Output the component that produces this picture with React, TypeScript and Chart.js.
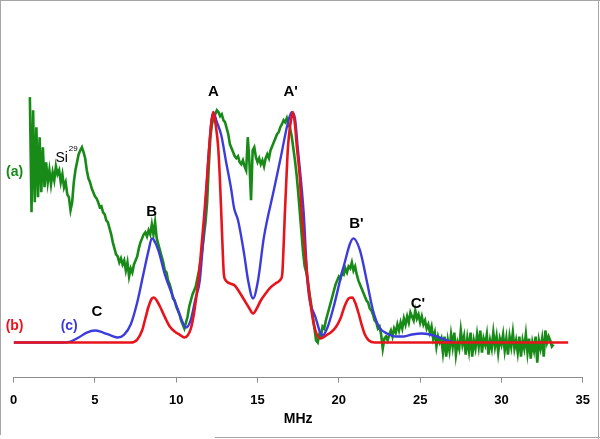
import { useEffect, useRef } from "react";
import { Chart, registerables } from "chart.js";

Chart.register(...registerables);

// x axis (MHz)
const xTickMin = 0;
const xTickMax = 35;
const xTickStep = 5;
const xTitle = "MHz";

// (a) measured spectrum, sampled every 0.1 MHz starting at 1.0 MHz (arbitrary intensity units)
const greenStartMHz = 1.0;
const greenStepMHz = 0.1;
const greenIntensity = [
  245, 130, 232, 140, 215, 145, 205, 150, 195, 155,
  180, 160, 172, 158, 170, 162, 176, 168, 172, 160,
  168, 155, 160, 148, 145, 132, 140, 160, 172, 180,
  188, 192, 195, 190, 184, 172, 164, 160, 154, 150,
  146, 144, 140, 135, 136, 130, 128, 122, 120, 114,
  108, 100, 94, 88, 86, 80, 84, 78, 82, 72,
  80, 66, 74, 70, 78, 82, 86, 94, 100, 104,
  108, 110, 106, 112, 108, 118, 108, 120, 104, 98,
  92, 86, 80, 72, 70, 62, 58, 52, 44, 42,
  36, 32, 28, 22, 18, 14, 20, 26, 36, 42,
  48, 52, 56, 64, 72, 82, 92, 106, 120, 140,
  175, 205, 218, 225, 228, 232, 230, 226, 228, 222,
  220, 214, 208, 198, 194, 190, 186, 184, 186, 180,
  178, 182, 176, 172, 205, 180, 142, 192, 195, 185,
  180, 184, 178, 182, 176, 184, 188, 184, 192, 196,
  200, 204, 208, 210, 215, 218, 222, 220, 224, 218,
  214, 206, 194, 182, 168, 150, 130, 110, 90, 76,
  70, 60, 48, 38, 26, 14, 2, 0, 8, 6,
  16, 14, 22, 28, 34, 40, 46, 52, 58, 62,
  66, 64, 70, 68, 74, 70, 76, 74, 80, 72,
  76, 68, 62, 58, 54, 50, 46, 42, 40, 34,
  32, 28, 22, 20, 14, 16, 8, -6, 4, 6,
  2, 8, 12, 6, 14, 10, 18, 12, 20, 14,
  24, 18, 26, 20, 30, 26, 22, 32, 24, 28,
  20, 26, 18, 22, 14, 18, 10, 16, 4, 10,
  -4, 6, 0, 4, -10, 6, -14, 2, -8, 8,
  -4, 10, -12, 0, -6, 12, -2, 6, -12, 4,
  -8, 10, -14, 2, -6, 8, -4, 12, -10, 4,
  -2, 8, -12, 2, -6, 10, -4, 6, -10, 4,
  -2, 8, -8, 4, -12, 6, -4, 10, -6, 2,
  -10, 6, -14, 2, -6, 8, -10, 4, -16, 0,
  -8, 6, -20, 2, -6, 4, -14, 12, 0, 6,
  2, -4, -2,
];

// (b) simulation, red
const redMHz = [
  0, 7.2, 7.6, 7.9, 8.1, 8.3, 8.5, 8.62, 8.8, 9.0, 9.2, 9.4, 9.6, 9.9, 10.2, 10.5,
  10.7, 10.9, 11.1, 11.36, 11.55, 11.73, 11.9, 12.03, 12.15, 12.28, 12.42, 12.58, 12.68,
  12.77, 12.85, 12.93, 13.05, 13.3, 13.6, 13.9, 14.2, 14.5, 14.72, 14.95, 15.2, 15.5, 15.8,
  16.1, 16.3, 16.42, 16.52, 16.6, 16.68, 16.78, 16.87, 17.02, 17.17, 17.3, 17.42, 17.6, 17.72,
  17.9, 18.09, 18.45, 18.88, 19.2, 19.5, 19.8, 20.1, 20.35, 20.6, 20.83, 21.0, 21.2,
  21.4, 21.6, 21.85, 22.2, 34.1,
];
const redIntensity = [
  0, 0, 3, 12, 24, 36, 44, 45, 42, 36, 29, 22, 16, 11, 8, 5,
  7, 14, 30, 62, 95, 129, 165, 195, 218, 230, 218, 195, 165,
  129, 95, 68, 62, 59, 57, 50, 42, 34, 29, 34, 42, 49, 55,
  59, 61, 63, 68, 95, 129, 165, 195, 218, 230, 218, 195, 165, 129,
  95, 62, 19, 4, 7, 10, 15, 24, 36, 44, 45, 40, 30,
  18, 8, 2, 0, 0,
];

// (c) simulation, blue
const blueMHz = [
  0, 3.0, 3.5, 4.0, 4.5, 5.0, 5.5, 6.0, 6.4, 6.8, 7.2, 7.6, 8.0, 8.3, 8.5, 8.9, 9.3,
  9.7, 10.1, 10.4, 10.6, 10.9, 11.2, 11.45, 11.75, 12.0, 12.28, 12.5, 12.77, 13.07,
  13.37, 13.56, 13.8, 14.17, 14.42, 14.72, 15.03, 15.39, 16.0, 16.43, 16.86, 17.1,
  17.3, 17.47, 17.84, 18.08, 18.57, 19.0, 19.3, 19.67, 20.28, 20.9, 21.3, 21.75, 22.1,
  22.5, 22.97, 23.5, 24.0, 24.5, 25.1, 25.6, 26.2, 26.7, 27.1,
];
const blueIntensity = [
  0, 0, 1, 5, 10, 12, 10, 7, 5, 8, 18, 40, 70, 92, 104, 92, 68,
  50, 33, 20, 15, 23, 45, 62, 125, 190, 230, 220, 207, 180,
  154, 134, 122, 89, 62, 44, 62, 105, 152, 185, 219, 230,
  224, 195, 129, 59, 25, 7, 15, 35, 75, 104, 92, 59, 32,
  15, 9, 6, 6, 8, 9, 8, 5, 2, 0,
];

// peak labels
const peakText = ["A", "A'", "B", "B'", "C", "C'"];
const peakMHz = [12.28, 17.04, 8.49, 21.08, 5.13, 24.86];
const peakIntensity = [250, 250, 130, 118, 31, 39];

// trace tags
const tagText = ["(a)", "(b)", "(c)"];
const tagMHz = [0.06, 0.06, 3.42];
const tagIntensity = [170, 16, 16];

// isotope note
const isoText = "Si";
const isoSup = "29";
const isoMHz = 2.57;
const isoIntensity = 184;

const GREEN = "#178a17";
const RED = "#e8141c";
const BLUE = "#3c3cdc";
const tagColors = [GREEN, RED, BLUE];
const FONT = "'Liberation Sans', Arial, sans-serif";

export default function App() {
  const ref = useRef<HTMLCanvasElement>(null);

  useEffect(() => {
    document.body.style.margin = "0";
    const canvas = ref.current;
    if (!canvas) return;

    const greenData = greenIntensity.map((v, i) => ({
      x: Math.round((greenStartMHz + i * greenStepMHz) * 100) / 100,
      y: v,
    }));
    const redData = redMHz.map((x, i) => ({ x, y: redIntensity[i] }));
    const blueData = blueMHz.map((x, i) => ({ x, y: blueIntensity[i] }));

    const annot = {
      id: "annot",
      afterDatasetsDraw(chart: any) {
        const { ctx, scales } = chart;
        const xs = scales.x;
        const ys = scales.y;
        ctx.save();
        ctx.textBaseline = "middle";
        ctx.textAlign = "center";
        ctx.fillStyle = "#000";
        ctx.font = `bold 15px ${FONT}`;
        peakText.forEach((t, i) => {
          ctx.fillText(t, xs.getPixelForValue(peakMHz[i]), ys.getPixelForValue(peakIntensity[i]));
        });
        ctx.font = `bold 14px ${FONT}`;
        tagText.forEach((t, i) => {
          ctx.fillStyle = tagColors[i];
          ctx.fillText(t, xs.getPixelForValue(tagMHz[i]), ys.getPixelForValue(tagIntensity[i]));
        });
        ctx.fillStyle = "#000";
        ctx.textAlign = "left";
        ctx.font = `14px ${FONT}`;
        const sx = xs.getPixelForValue(isoMHz);
        const sy = ys.getPixelForValue(isoIntensity);
        ctx.fillText(isoText, sx, sy);
        const w = ctx.measureText(isoText).width;
        ctx.font = `8px ${FONT}`;
        ctx.fillText(isoSup, sx + w + 1, sy - 9);
        ctx.restore();
      },
      afterDraw(chart: any) {
        const { ctx } = chart;
        ctx.save();
        ctx.strokeStyle = "#a6a6a6";
        ctx.lineWidth = 1;
        ctx.beginPath();
        ctx.moveTo(0, 0.5);
        ctx.lineTo(600, 0.5);
        ctx.moveTo(0.5, 0);
        ctx.lineTo(0.5, 435);
        ctx.moveTo(598.5, 0);
        ctx.lineTo(598.5, 439);
        ctx.moveTo(215, 437.5);
        ctx.lineTo(600, 437.5);
        ctx.stroke();
        ctx.restore();
      },
    };

    const chart = new Chart(canvas, {
      type: "line",
      data: {
        datasets: [
          {
            data: redData,
            borderColor: RED,
            borderWidth: 2.6,
            pointRadius: 0,
            cubicInterpolationMode: "monotone",
            fill: false,
          },
          {
            data: blueData,
            borderColor: BLUE,
            borderWidth: 2.4,
            pointRadius: 0,
            cubicInterpolationMode: "monotone",
            fill: false,
          },
          {
            data: greenData,
            borderColor: GREEN,
            borderWidth: 2.6,
            pointRadius: 0,
            tension: 0,
            fill: false,
          },
        ],
      },
      options: {
        animation: false,
        responsive: false,
        devicePixelRatio: 1,
        layout: { padding: { left: 11, right: 16, top: 10, bottom: 11 } },
        plugins: {
          legend: { display: false },
          tooltip: { enabled: false },
        },
        scales: {
          x: {
            type: "linear",
            min: xTickMin,
            max: xTickMax,
            ticks: {
              stepSize: xTickStep,
              color: "#000",
              font: { family: FONT, size: 13, weight: "bold" },
              padding: 10,
              maxRotation: 0,
            },
            grid: {
              display: true,
              drawOnChartArea: false,
              drawTicks: true,
              tickLength: 5,
              color: "#8c8c8c",
            },
            border: { display: true, color: "#8c8c8c", width: 1 },
            title: {
              display: true,
              text: xTitle,
              color: "#000",
              font: { family: FONT, size: 14, weight: "bold" },
              padding: { top: -7, bottom: 0 },
            },
          },
          y: {
            type: "linear",
            display: false,
            min: -35,
            max: 332,
          },
        },
      },
      plugins: [annot],
    });

    return () => chart.destroy();
  }, []);

  return (
    <div style={{ position: "relative", width: 600, height: 439 }}>
      <canvas ref={ref} width={600} height={439} style={{ display: "block" }} />
    </div>
  );
}
